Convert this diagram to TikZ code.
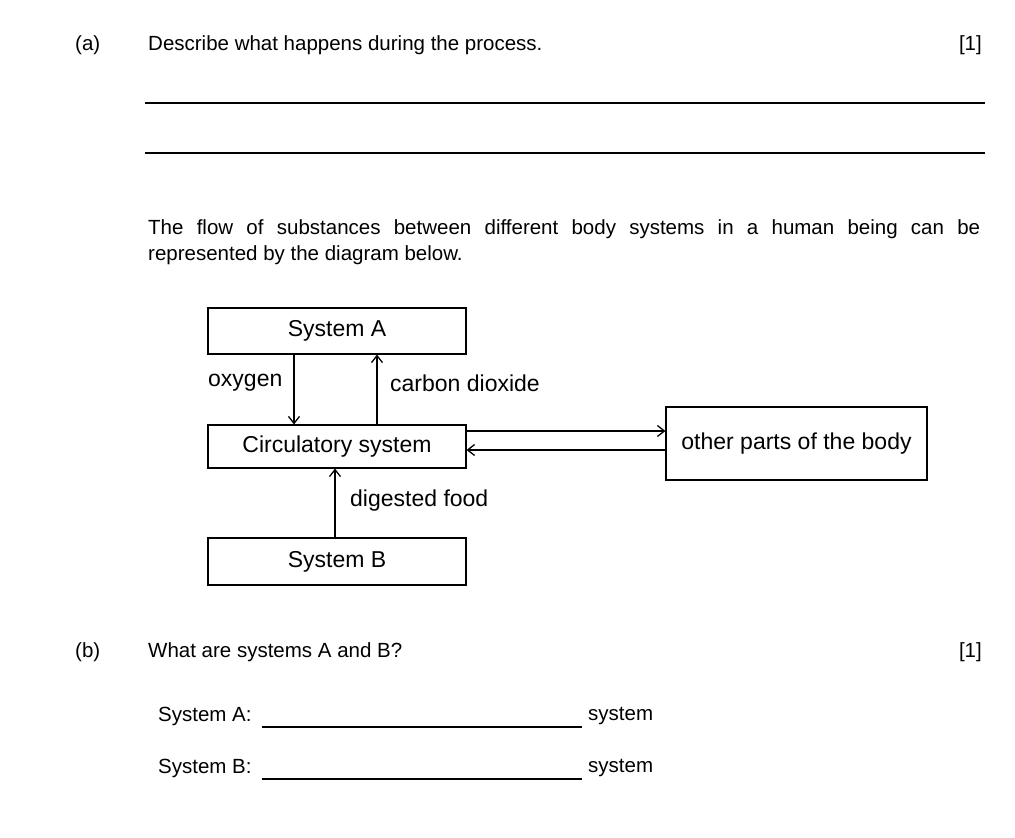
\documentclass[tikz,border=0pt]{standalone}
\usepackage{fontspec}
\setmainfont{Liberation Sans}
\usetikzlibrary{arrows.meta}
\begin{document}
\begin{tikzpicture}[x=1pt,y=-1pt,
  txt/.style={anchor=west,inner sep=0,font=\fontsize{20.5}{24}\selectfont},
  dtxt/.style={inner sep=0,font=\fontsize{23}{26}\selectfont},
  box/.style={draw,line width=1.1pt,minimum width=258,minimum height=46,inner sep=0,font=\fontsize{23}{26}\selectfont},
  ans/.style={line width=1.2pt},
  arr/.style={line width=1.3pt,-{Straight Barb[length=7pt,width=11pt]}}]
\useasboundingbox (0,0) rectangle (1015,838);
\node[txt] (pa) at (75,45) {(a)};
\node[txt] (qa) at (148,45) {Describe what happens during the process.};
\node[txt,anchor=east] (ma) at (982,45) {[1]};
\coordinate (l1a) at (145,103); \coordinate (l1b) at (985,103);
\coordinate (l2a) at (145,153); \coordinate (l2b) at (985,153);
\draw[ans] (l1a) -- (l1b);
\draw[ans] (l2a) -- (l2b);
\node[txt,anchor=north west,text width=832,align=justify,font=\fontsize{20.5}{26}\selectfont] (para) at (148,219)
 {The flow of substances between different body systems in a human being can be\linebreak represented by the diagram below.};
\node[box] (A) at (337,331) {System A};
\node[box,minimum height=43] (C) at (337,446.5) {Circulatory system};
\node[box,minimum height=47] (B) at (337,561.5) {System B};
\node[box,minimum width=261,minimum height=73] (O) at (796.5,443.5) {other parts of the body};
\draw[arr] (A.south -| 294,0) -- (C.north -| 294,0);
\draw[arr] (C.north -| 377,0) -- (A.south -| 377,0);
\draw[arr] (B.north -| 335,0) -- (C.south -| 335,0);
\draw[arr] (C.east |- 0,431) -- (O.west |- 0,431);
\draw[arr] (O.west |- 0,450) -- (C.east |- 0,450);
\node[dtxt,anchor=west] (ox) at (208,383) {oxygen};
\node[dtxt,anchor=west] (co) at (390,383) {carbon dioxide};
\node[dtxt,anchor=west] (df) at (350,501) {digested food};
\node[txt] (pb) at (75,652) {(b)};
\node[txt] (qb) at (148,652) {What are systems A and B?};
\node[txt,anchor=east] (mb) at (982,652) {[1]};
\node[txt] (sa) at (158,716) {System A:};
\node[txt] (sas) at (588,716) {system};
\node[txt] (sb) at (158,768) {System B:};
\node[txt] (sbs) at (588,768) {system};
\coordinate (a1) at (262,727); \coordinate (a2) at (582,727);
\coordinate (b1) at (262,779); \coordinate (b2) at (582,779);
\draw[ans] (a1) -- (a2);
\draw[ans] (b1) -- (b2);
\end{tikzpicture}
\end{document}
